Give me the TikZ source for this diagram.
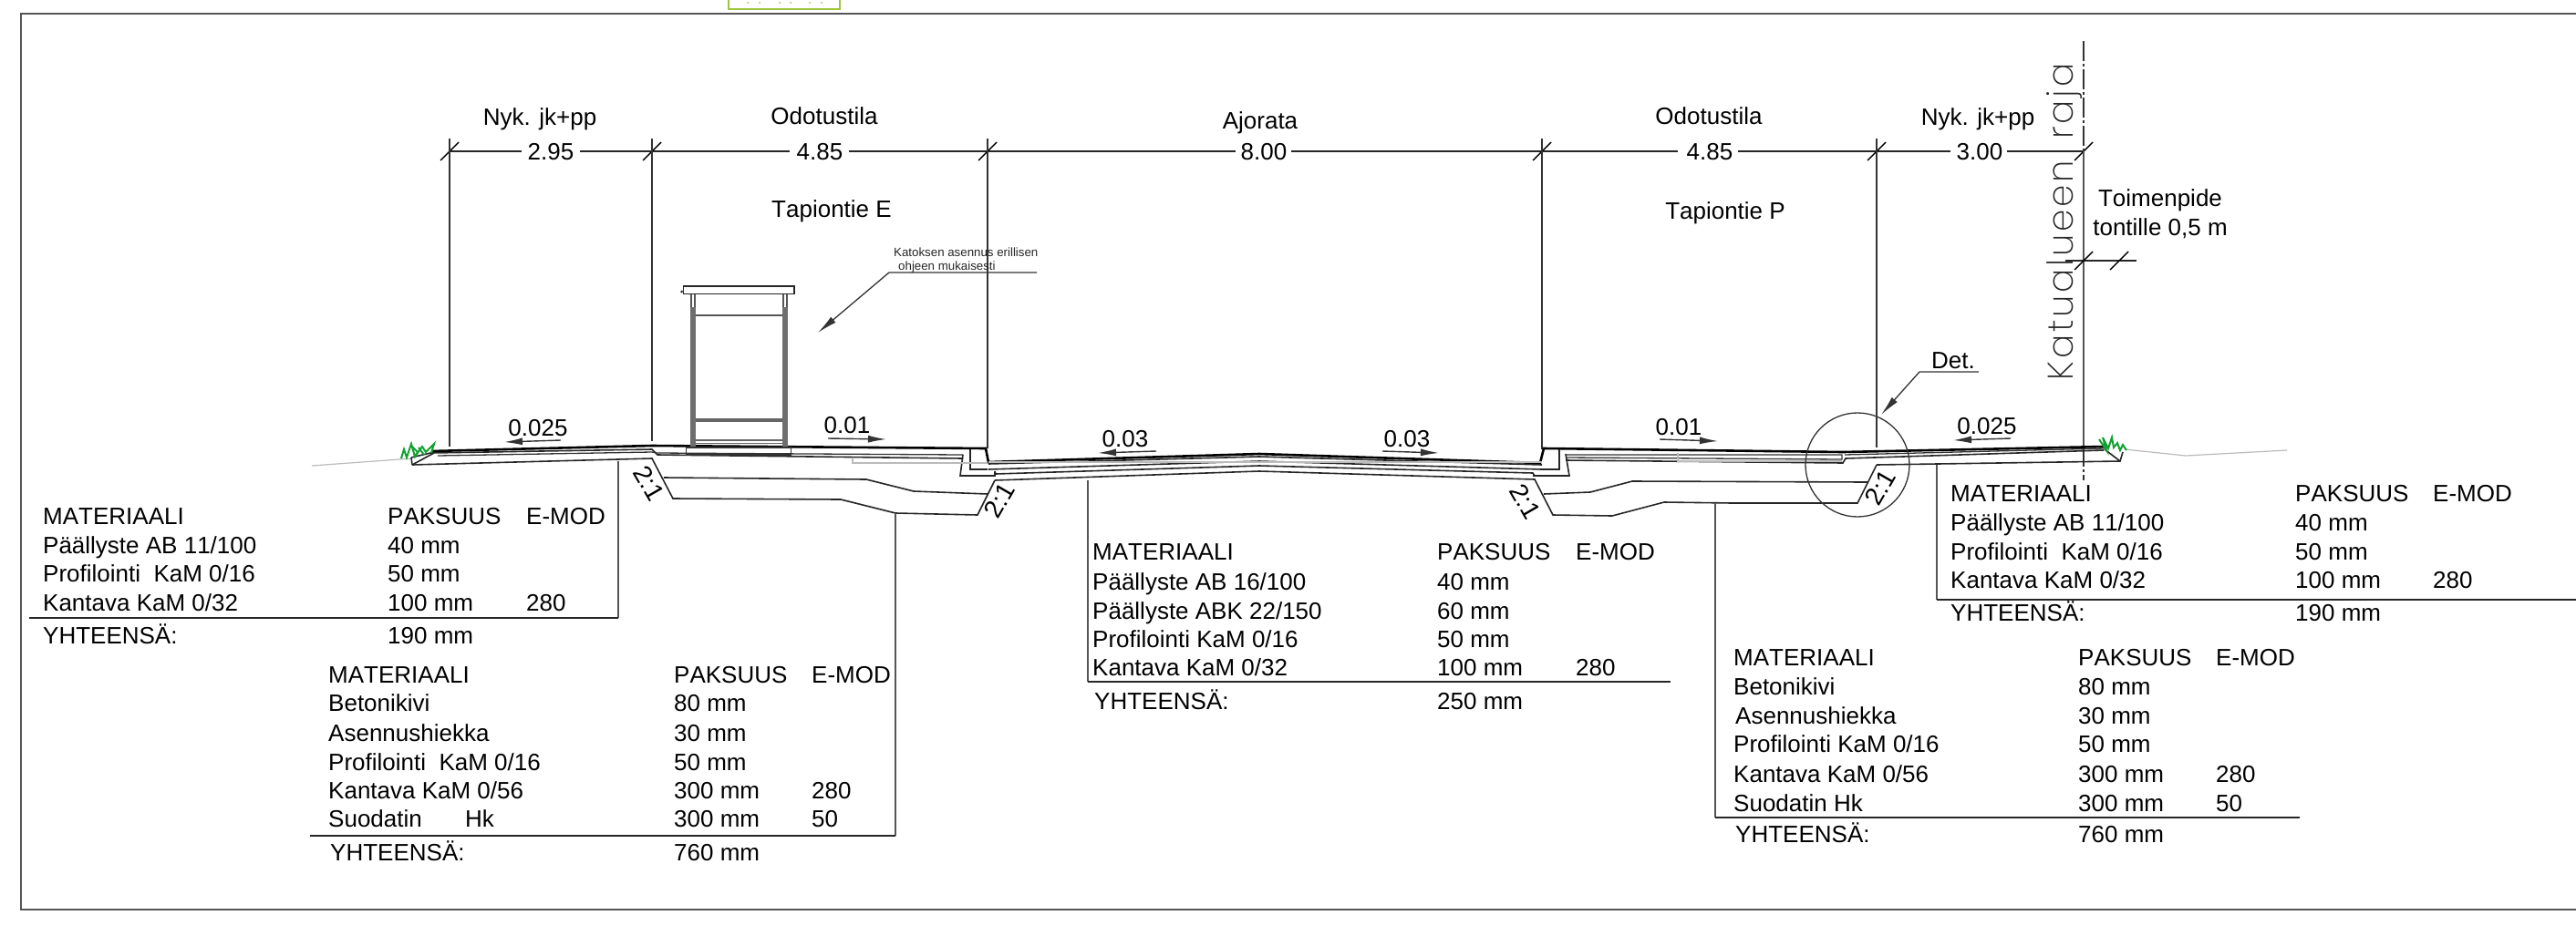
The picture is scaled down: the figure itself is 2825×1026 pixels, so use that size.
\documentclass[tikz,border=0pt]{standalone}
\usepackage{fontspec}
\setmainfont[Kerning=Off]{Liberation Sans}
\newfontfamily\thinfont[LetterSpace=7]{Poppins ExtraLight}
\definecolor{gr}{HTML}{555555}
\definecolor{pale}{HTML}{BBBBBB}
\definecolor{grassg}{HTML}{12A032}
\definecolor{boxg}{HTML}{9CC63B}
\usetikzlibrary{arrows.meta}
\tikzset{
 tbl/.style={anchor=base west,yshift=-9.4pt,inner sep=0pt,font=\fontsize{26}{30}\selectfont,text=black},
 ctr/.style={anchor=base,yshift=-9.4pt,inner sep=0pt,font=\fontsize{26}{30}\selectfont,text=black},
 rot/.style={anchor=center,inner sep=0pt,font=\fontsize{28}{30}\selectfont,text=black},
 small/.style={anchor=base west,yshift=-4.8pt,inner sep=0pt,font=\fontsize{13.3}{16}\selectfont,text=black!85},
 thinl/.style={line width=1.3pt,draw=black!80},
 medl/.style={line width=1.6pt,draw=black!85},
 thickl/.style={line width=2.6pt,draw=black},
 greyl/.style={line width=1.3pt,draw=gr},
 palel/.style={line width=1.2pt,draw=pale},
 tick/.style={line width=1.4pt,draw=black},
 slope/.style={line width=1.4pt,draw=black!80,-{Latex[length=20pt,width=8pt]}},
 lead/.style={line width=1.3pt,draw=black!80,-{Latex[length=22pt,width=8pt]}},
 post/.style={line width=6pt,draw=gr!85},
 grass/.style={line width=2pt,draw=grassg,line join=miter},
}
\newcommand\tx[4]{\node[tbl] (#1) at (#2,#3) {#4};}
\newcommand\cx[4]{\node[ctr] (#1) at (#2,#3) {#4};}
\begin{document}
\begin{tikzpicture}[x=1pt,y=-1pt]
\useasboundingbox (0,0) rectangle (2825,1026);
% frame
\draw[line width=1.4pt,draw=gr] (2825,15) -- (23,15) -- (23,998) -- (2825,998);
% green box at top
\draw[line width=2pt,draw=boxg] (799,0) -- (799,9.5) -- (920.5,9.5) -- (920.5,0);
\foreach \xx in {820,833,855,867,888,901}{\fill[boxg] (\xx,3) circle (1pt);}
% dimension chain
\draw[medl] (493,166) -- (572,166) (636,166) -- (866,166) (931,166) -- (1355,166) (1416,166) -- (1840,166) (1906,166) -- (2139,166) (2201,166) -- (2285,166);
\foreach \xx in {493,715,1083,1691,2058,2285}{\draw[tick] (\xx-10,176) -- (\xx+10,156);}
% extension lines
\draw[thinl] (493,152) -- (493,490);
\draw[thinl] (715,152) -- (715,484);
\draw[thinl] (1083,152) -- (1083,492);
\draw[thinl] (1691,152) -- (1691,493);
\draw[thinl] (2058,152) -- (2058,491);
\draw[thinl,dash pattern=on 22pt off 3pt on 3pt off 3pt] (2285,45) -- (2285,166);
\draw[line width=1.6pt,draw=gr] (2285,166) -- (2285,490);
\draw[thinl,dash pattern=on 22pt off 3pt on 3pt off 3pt] (2285,490) -- (2285,527);
% plot dimension
\draw[medl] (2265,286) -- (2343,286);
\draw[tick] (2275,296) -- (2295,276) (2314,296) -- (2334,276);
% terrain
\draw[palel] (342,511) -- (452,503);
\draw[palel] (2330,493) -- (2397,500) -- (2508,494);
% surface (thick)
\draw[thickl] (473,495) -- (715,489) -- (1081,492) -- (1084,507) -- (1381,498) -- (1689,508) -- (1693,492) -- (2021,496) -- (2308,490);
% left sidewalk
\draw[medl] (451,502) -- (472,497) -- (715,493) -- (721,499) -- (1056,503);
\draw[medl] (452,510) -- (451,502);
\draw[medl] (452,510) -- (476,497);
\draw[medl] (452,510) -- (715,503) -- (738,547) -- (922,548) -- (982,563) -- (1072,565) -- (1091,527);
\draw[thinl] (480,500) -- (715,496) -- (720,497) -- (1056,499);
\draw[medl] (728,524) -- (950,526) -- (1002,539) -- (1083,542);
% left kerb
\draw[medl] (1064,493) -- (1064,515) -- (1083,515);
\draw[medl] (1056,499) -- (1053,522) -- (1091,522) -- (1091,517);
\draw[palel] (935,502) -- (935,508) -- (1083,508);
% road layers
\draw[medl] (1084,509) -- (1381,501) -- (1691,510);
\draw[medl] (1084,515) -- (1381,506) -- (1691,515);
\draw[medl] (1091,517) -- (1092,520) -- (1381,511) -- (1681,519) -- (1683,522);
\draw[medl] (1091,527) -- (1381,517) -- (1683,526) -- (1703,565) -- (1768,566) -- (1825,551) -- (1900,552) -- (2037,552) -- (2058,510);
% right kerb
\draw[medl] (1710,493) -- (1710,515) -- (1691,515);
\draw[medl] (1681,522) -- (1721,522) -- (1717,498);
\draw[palel] (1084,507) -- (1691,507);
% right sidewalk
\draw[thinl] (1717,499) -- (2020,499) -- (2020,504) -- (1717,502);
\draw[medl] (1717,505) -- (2021,508) -- (2024,503) -- (2307,494);
\draw[thinl] (2023,499) -- (2308,492);
\draw[palel] (1840,497) -- (1840,506) -- (2020,506);
\draw[medl] (1693,542) -- (1744,540) -- (1790,528) -- (2048,529);
\draw[medl] (2058,510) -- (2325,506) -- (2328,496);
\draw[medl] (2308,493) -- (2325,506);
% detail circle
\draw[thinl] (2037,510) circle (57);
\draw[lead] (2170,408) -- (2105,408) -- (2063,455);
% shelter
\draw[thinl] (752.5,491) rectangle (867.5,499);
\draw[post] (760,337) -- (760,490);
\draw[post] (861,337) -- (861,490);
\draw[greyl] (758,323) -- (758,337) (762,323) -- (762,337) (859,323) -- (859,337) (863,323) -- (863,337);
\draw[line width=1.5pt,draw=gr] (763,346) -- (858,346);
\fill[gr!90] (763,459) rectangle (858,463);
\fill[gr!90] (763,482) rectangle (858,484);
\fill[gr!90] (763,485.5) rectangle (858,487);
\draw[line width=1.6pt,draw=black!85,fill=white] (749.5,314) rectangle (871,322.5);
\fill[black!85] (747.5,320) circle (1.5);
% shelter leader
\draw[lead] (1137,299) -- (975,299) -- (897,365);
% grass
\draw[grass] (440,503) -- (443,493) -- (446,502) -- (451,487) -- (455,501) -- (458,496) -- (451,489) (455,501) -- (463,490) -- (467,496) -- (476,487) -- (473,497) (465,499) -- (459,491);
\draw[grass] (2302,482) -- (2310,494) -- (2306,480) -- (2312,492) -- (2316,480) -- (2318,491) -- (2322,486) -- (2325,494) -- (2328,488) -- (2332,494);
% slope arrows
\draw[slope] (615,483) -- (553,485);
\draw[slope] (908,481) -- (972,482);
\draw[slope] (1268,495) -- (1204,497);
\draw[slope] (1516,495) -- (1578,497);
\draw[slope] (1820,482) -- (1884,484);
\draw[slope] (2205,481) -- (2142,483);
% table leaders
\draw[greyl] (678,506) -- (678,678);
\draw[medl] (678,678) -- (32,678);
\draw[greyl] (982,563) -- (982,917);
\draw[medl] (982,917) -- (340,917);
\draw[greyl] (1193,527) -- (1193,748);
\draw[medl] (1193,748) -- (1832,748);
\draw[greyl] (1881,552) -- (1881,897);
\draw[medl] (1881,897) -- (2522,897);
\draw[greyl] (2124,510) -- (2124,658);
\draw[medl] (2124,658) -- (2825,658);
% top labels
\cx{a1}{592}{128}{Nyk. jk+pp}
\cx{a2}{604}{166}{2.95}
\cx{a3}{904}{127}{Odotustila}
\cx{a4}{899}{166}{4.85}
\cx{a5}{912}{229}{Tapiontie E}
\cx{a6}{1382}{132}{Ajorata}
\cx{a7}{1386}{166}{8.00}
\cx{a8}{1874}{127}{Odotustila}
\cx{a9}{1875}{166}{4.85}
\cx{a10}{1892}{231}{Tapiontie P}
\cx{a11}{2169}{128}{Nyk. jk+pp}
\cx{a12}{2171}{166}{3.00}
\cx{a13}{2369}{217}{Toimenpide}
\cx{a14}{2369}{249}{tontille 0,5 m}
\cx{a15}{2142}{395}{Det.}
\node[small] (k1) at (980,277) {Katoksen asennus erillisen};
\node[small] (k2) at (985,292) {ohjeen mukaisesti};
% border text
\node[inner sep=0pt,rotate=90,anchor=base,font=\thinfont\fontsize{39}{50}\selectfont,text=black!85] (kr) at (2273,243.5) {Katualueen\hspace{10pt} raja};
% slope labels
\cx{s1}{590}{469}{0.025}
\cx{s2}{929}{466}{0.01}
\cx{s3}{1234}{481}{0.03}
\cx{s4}{1543}{481}{0.03}
\cx{s5}{1841}{468}{0.01}
\cx{s6}{2179}{467}{0.025}
\node[rot,rotate=-60] (r1) at (712,530) {2:1};
\node[rot,rotate=60] (r2) at (1096,549) {2:1};
\node[rot,rotate=-60] (r3) at (1673,550) {2:1};
\node[rot,rotate=60] (r4) at (2062,535) {2:1};
% table 1
\tx{t1a}{47}{566}{MATERIAALI}\tx{t1b}{425}{566}{PAKSUUS}\tx{t1c}{577}{566}{E-MOD}
\tx{t1d}{47}{598}{Päällyste AB 11/100}\tx{t1e}{425}{598}{40 mm}
\tx{t1f}{47}{629}{Profilointi\ \ KaM 0/16}\tx{t1g}{425}{629}{50 mm}
\tx{t1h}{47}{661}{Kantava KaM 0/32}\tx{t1i}{425}{661}{100 mm}\tx{t1j}{577}{661}{280}
\tx{t1k}{47}{697}{YHTEENSÄ:}\tx{t1l}{425}{697}{190 mm}
% table 2
\tx{t2a}{360}{740}{MATERIAALI}\tx{t2b}{739}{740}{PAKSUUS}\tx{t2c}{890}{740}{E-MOD}
\tx{t2d}{360}{771}{Betonikivi}\tx{t2e}{739}{771}{80 mm}
\tx{t2f}{360}{804}{Asennushiekka}\tx{t2g}{739}{804}{30 mm}
\tx{t2h}{360}{836}{Profilointi\ \ KaM 0/16}\tx{t2i}{739}{836}{50 mm}
\tx{t2j}{360}{867}{Kantava KaM 0/56}\tx{t2k}{739}{867}{300 mm}\tx{t2l}{890}{867}{280}
\tx{t2m}{360}{898}{Suodatin}\tx{t2n}{510}{898}{Hk}\tx{t2o}{739}{898}{300 mm}\tx{t2p}{890}{898}{50}
\tx{t2q}{362}{935}{YHTEENSÄ:}\tx{t2r}{739}{935}{760 mm}
% table 3
\tx{t3a}{1198}{605}{MATERIAALI}\tx{t3b}{1576}{605}{PAKSUUS}\tx{t3c}{1728}{605}{E-MOD}
\tx{t3d}{1198}{638}{Päällyste AB 16/100}\tx{t3e}{1576}{638}{40 mm}
\tx{t3f}{1198}{670}{Päällyste ABK 22/150}\tx{t3g}{1576}{670}{60 mm}
\tx{t3h}{1198}{701}{Profilointi KaM 0/16}\tx{t3i}{1576}{701}{50 mm}
\tx{t3j}{1198}{732}{Kantava KaM 0/32}\tx{t3k}{1576}{732}{100 mm}\tx{t3l}{1728}{732}{280}
\tx{t3m}{1200}{769}{YHTEENSÄ:}\tx{t3n}{1576}{769}{250 mm}
% table 4
\tx{t4a}{1901}{721}{MATERIAALI}\tx{t4b}{2279}{721}{PAKSUUS}\tx{t4c}{2430}{721}{E-MOD}
\tx{t4d}{1901}{753}{Betonikivi}\tx{t4e}{2279}{753}{80 mm}
\tx{t4f}{1903}{785}{Asennushiekka}\tx{t4g}{2279}{785}{30 mm}
\tx{t4h}{1901}{816}{Profilointi KaM 0/16}\tx{t4i}{2279}{816}{50 mm}
\tx{t4j}{1901}{849}{Kantava KaM 0/56}\tx{t4k}{2279}{849}{300 mm}\tx{t4l}{2430}{849}{280}
\tx{t4m}{1901}{881}{Suodatin Hk}\tx{t4n}{2279}{881}{300 mm}\tx{t4o}{2430}{881}{50}
\tx{t4p}{1903}{915}{YHTEENSÄ:}\tx{t4q}{2279}{915}{760 mm}
% table 5
\tx{t5a}{2139}{541}{MATERIAALI}\tx{t5b}{2517}{541}{PAKSUUS}\tx{t5c}{2668}{541}{E-MOD}
\tx{t5d}{2139}{573}{Päällyste AB 11/100}\tx{t5e}{2517}{573}{40 mm}
\tx{t5f}{2139}{605}{Profilointi\ \ KaM 0/16}\tx{t5g}{2517}{605}{50 mm}
\tx{t5h}{2139}{636}{Kantava KaM 0/32}\tx{t5i}{2517}{636}{100 mm}\tx{t5j}{2668}{636}{280}
\tx{t5k}{2139}{672}{YHTEENSÄ:}\tx{t5l}{2517}{672}{190 mm}
\end{tikzpicture}
\end{document}
